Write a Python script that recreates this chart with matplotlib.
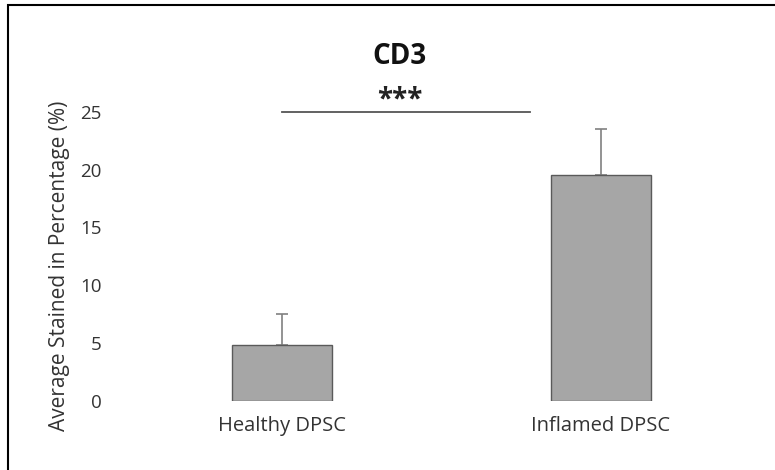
from matplotlib import pyplot as plt
from matplotlib.patches import Rectangle

# CD3 staining
groups = ['Healthy DPSC', 'Inflamed DPSC']
means = [4.8, 19.5]
errs = [2.7, 4.0]
yticks = [0, 5, 10, 15, 20, 25]
sig_label = '***'
sig_y = 25

plt.rcParams['font.family'] = ['Open Sans', 'DejaVu Sans']

fig = plt.figure(figsize=(7.75, 4.7), dpi=100)
W, H = 775.0, 470.0

# axes placed in pixels: left 110, right 760, bottom 401, top 54
ax = fig.add_axes([110 / W, 1 - 401 / H, 650 / W, (401 - 54) / H])

x = [0, 1]
ax.bar(x, means, width=0.313, color='#a6a6a6', edgecolor='#5a5a5a', linewidth=1.0, zorder=2)
ax.errorbar(x, means, yerr=[[0, 0], errs], fmt='none', ecolor='#808080',
            elinewidth=1.2, capsize=4, capthick=1.2, zorder=1)

ax.set_xlim(-(282 - 110) / 319, 1 + (760 - 601) / 319)
ax.set_ylim(0, 30)
ax.set_yticks(yticks)
ax.set_xticks(x)
ax.set_xticklabels(groups, fontsize=14.5, color='#333333')
ax.tick_params(axis='y', length=0, labelsize=13.5, labelcolor='#333333', pad=6)
ax.tick_params(axis='x', length=0, pad=11)
for s in ax.spines.values():
    s.set_visible(False)

ax.set_ylabel('Average Stained in Percentage (%)', fontsize=15, color='#333333')
ax.yaxis.set_label_coords(-0.062, 0.39)

# significance bar
ax.plot([0, 0.777], [sig_y, sig_y], color='#555555', lw=1.3)
ax.text(0.37, 26.0, sig_label, ha='center', va='center', fontsize=20, fontweight='bold', color='#222222')

fig.text(400 / W, 1 - 57 / H, 'CD3', ha='center', va='center', fontsize=20, fontweight='bold', color='#111111')

# frame around the figure
fig.patches.append(Rectangle((8 / W, -0.05), 1.0, 1 - 5 / H + 0.05, transform=fig.transFigure,
                             fill=False, edgecolor='black', linewidth=1.5))

plt.savefig('out.png', dpi=100)
